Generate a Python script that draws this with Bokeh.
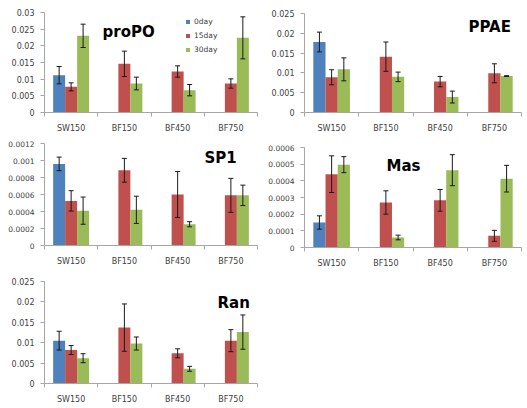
from bokeh.plotting import figure
from bokeh.layouts import row, column
from bokeh.models import (ColumnDataSource, FixedTicker, CustomJSTickFormatter, Range1d,
                          Whisker, TeeHead, Label, Legend, LegendItem)
from bokeh.embed import file_html
from bokeh.resources import INLINE

# ---------------- data ----------------
categories = ["SW150", "BF150", "BF450", "BF750"]
series_names = ["0day", "15day", "30day"]
series_colors = ["#4F81BD", "#C0504D", "#9BBB59"]

propo_0day = [0.0112, None, None, None]
propo_0day_err = [0.0026, None, None, None]
propo_15day = [0.0077, 0.0146, 0.0123, 0.0087]
propo_15day_err = [0.0012, 0.0038, 0.0017, 0.0014]
propo_30day = [0.0230, 0.0087, 0.0067, 0.0224]
propo_30day_err = [0.0035, 0.0019, 0.0017, 0.0063]
propo_ticks = [0, 0.005, 0.01, 0.015, 0.02, 0.025, 0.03]

ppae_0day = [0.0178, None, None, None]
ppae_0day_err = [0.0025, None, None, None]
ppae_15day = [0.0089, 0.0141, 0.0078, 0.0099]
ppae_15day_err = [0.0019, 0.0037, 0.0013, 0.0024]
ppae_30day = [0.0109, 0.0090, 0.0039, 0.0092]
ppae_30day_err = [0.0029, 0.0012, 0.0015, 0.0001]
ppae_ticks = [0, 0.005, 0.01, 0.015, 0.02, 0.025]

sp1_0day = [0.00096, None, None, None]
sp1_0day_err = [0.00008, None, None, None]
sp1_15day = [0.000525, 0.000885, 0.0006, 0.00059]
sp1_15day_err = [0.00012, 0.00014, 0.00027, 0.0002]
sp1_30day = [0.00041, 0.00042, 0.00025, 0.00059]
sp1_30day_err = [0.00016, 0.00016, 0.00003, 0.00012]
sp1_ticks = [0, 0.0002, 0.0004, 0.0006, 0.0008, 0.001, 0.0012]

mas_0day = [0.00015, None, None, None]
mas_0day_err = [0.00004, None, None, None]
mas_15day = [0.00044, 0.00027, 0.000283, 0.00007]
mas_15day_err = [0.00011, 0.00007, 0.000065, 0.000033]
mas_30day = [0.000497, 0.00006, 0.000464, 0.000413]
mas_30day_err = [0.000048, 0.000014, 0.000093, 0.00008]
mas_ticks = [0, 0.0001, 0.0002, 0.0003, 0.0004, 0.0005, 0.0006]

ran_0day = [0.0105, None, None, None]
ran_0day_err = [0.0023, None, None, None]
ran_15day = [0.0082, 0.0137, 0.0074, 0.0105]
ran_15day_err = [0.0011, 0.0058, 0.0011, 0.0027]
ran_30day = [0.0062, 0.0098, 0.0036, 0.0126]
ran_30day_err = [0.0011, 0.0016, 0.0006, 0.0042]
ran_ticks = [0, 0.005, 0.01, 0.015, 0.02, 0.025]

TICK_FONT = "DejaVu Sans"
TITLE_FONT = "DejaVu Sans"
AXIS_COLOR = "#A6A6A6"
TEXT_COLOR = "#404040"
BAR_W = 0.225
OFFSETS = [-0.225, 0.0, 0.225]


def make_panel(title, means, errs, ticks, width, height, borders, title_pos,
               tick_font_size="8px", legend_pos=None):
    left, right, top, bottom = borders
    p = figure(width=width, height=height, output_backend="svg", toolbar_location=None,
               x_range=Range1d(0, len(categories)), y_range=Range1d(0, ticks[-1]),
               min_border_left=left, min_border_right=right,
               min_border_top=top, min_border_bottom=bottom)
    p.outline_line_color = None
    p.xgrid.visible = False
    p.ygrid.visible = False
    p.background_fill_color = "white"
    p.border_fill_color = "white"

    legend_items = []
    for k, (vals, ers) in enumerate(zip(means, errs)):
        xs, tops, ups, lows = [], [], [], []
        for i, (v, e) in enumerate(zip(vals, ers)):
            if v is None:
                continue
            xs.append(i + 0.5 + OFFSETS[k])
            tops.append(v)
            ups.append(v + e)
            lows.append(v - e)
        src = ColumnDataSource(dict(x=xs, top=tops, upper=ups, lower=lows))
        r = p.vbar(x="x", top="top", width=BAR_W, source=src,
                   fill_color=series_colors[k], line_color=None)
        legend_items.append(LegendItem(label=series_names[k], renderers=[r]))
        w = Whisker(source=src, base="x", upper="upper", lower="lower",
                    line_color="#1a1a1a", line_width=1, level="overlay",
                    upper_head=TeeHead(size=5, line_color="#1a1a1a", line_width=1),
                    lower_head=TeeHead(size=5, line_color="#1a1a1a", line_width=1))
        p.add_layout(w)

    # x axis: labels at category centres, tick marks at category boundaries
    xa = p.xaxis[0]
    xa.ticker = FixedTicker(ticks=[i + 0.5 for i in range(len(categories))],
                            minor_ticks=list(range(len(categories) + 1)))
    xa.major_label_overrides = {i + 0.5: c for i, c in enumerate(categories)}
    xa.major_tick_out = 0
    xa.major_tick_in = 0
    xa.minor_tick_out = 4
    xa.minor_tick_in = 0
    xa.minor_tick_line_color = AXIS_COLOR
    xa.axis_line_color = AXIS_COLOR
    xa.major_label_standoff = 7
    xa.major_label_text_font = TICK_FONT
    xa.major_label_text_font_size = "8px"
    xa.major_label_text_color = TEXT_COLOR

    ya = p.yaxis[0]
    ya.ticker = FixedTicker(ticks=ticks, minor_ticks=[])
    ya.formatter = CustomJSTickFormatter(code="return String(Number(tick.toPrecision(6)));")
    ya.major_tick_out = 4
    ya.major_tick_in = 0
    ya.minor_tick_out = 0
    ya.minor_tick_in = 0
    ya.major_tick_line_color = AXIS_COLOR
    ya.axis_line_color = AXIS_COLOR
    ya.major_label_standoff = 6
    ya.major_label_text_font = TICK_FONT
    ya.major_label_text_font_size = tick_font_size
    ya.major_label_text_color = TEXT_COLOR

    tx, ty = title_pos
    p.add_layout(Label(x=tx, y=ty, x_units="screen", y_units="screen", text=title,
                       text_font=TITLE_FONT, text_font_style="bold", text_font_size="15px",
                       text_color="black", text_baseline="middle", text_align="left"))

    if legend_pos is not None:
        lg = Legend(items=legend_items, location=legend_pos, orientation="vertical",
                    glyph_width=5, glyph_height=5, label_height=9, label_width=10,
                    label_standoff=4, spacing=5, padding=0, margin=0,
                    border_line_alpha=0, background_fill_alpha=0,
                    label_text_font=TICK_FONT, label_text_font_size="7.5px",
                    label_text_color=TEXT_COLOR)
        p.add_layout(lg, "center")
    return p


f1 = make_panel("proPO", [propo_0day, propo_15day, propo_30day],
                [propo_0day_err, propo_15day_err, propo_30day_err], propo_ticks,
                264, 135, (41, 7, 12, 21), (58, 81), "8px", legend_pos=(141, 58))
f3 = make_panel("SP1", [sp1_0day, sp1_15day, sp1_30day],
                [sp1_0day_err, sp1_15day_err, sp1_30day_err], sp1_ticks,
                264, 135, (44, 7, 8, 25), (160, 88), "7.5px")
f5 = make_panel("Ran", [ran_0day, ran_15day, ran_30day],
                [ran_0day_err, ran_15day_err, ran_30day_err], ran_ticks,
                264, 136, (42, 7, 11, 23), (173, 81), "8px")
f2 = make_panel("PPAE", [ppae_0day, ppae_15day, ppae_30day],
                [ppae_0day_err, ppae_15day_err, ppae_30day_err], ppae_ticks,
                261, 135, (40, 4, 13, 21), (164, 86), "8px")
f4 = make_panel("Mas", [mas_0day, mas_15day, mas_30day],
                [mas_0day_err, mas_15day_err, mas_30day_err], mas_ticks,
                261, 135, (38, 4, 12, 20), (82, 82), "7.5px")

layout = row(column(f1, f3, f5), column(f2, f4))

with open("out.html", "w") as fh:
    fh.write(file_html(layout, INLINE))
